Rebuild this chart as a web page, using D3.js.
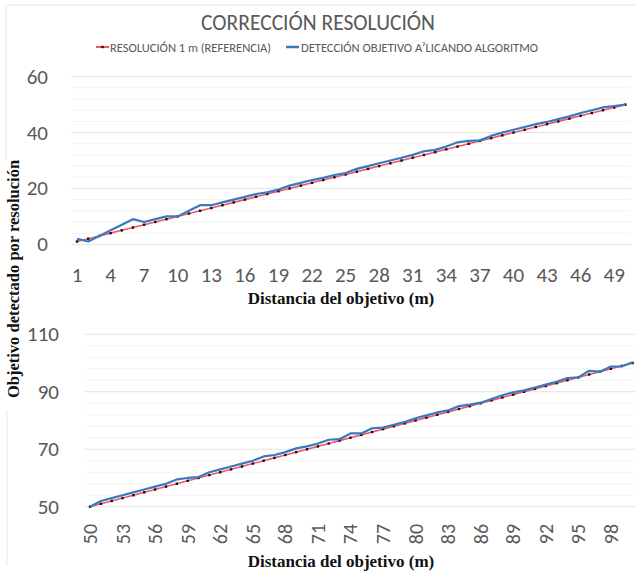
<!DOCTYPE html>
<html><head><meta charset="utf-8">
<script src="https://cdn.jsdelivr.net/npm/d3@7"></script>
<style>body{margin:0;background:#fff}svg{display:block}</style>
</head><body>
<svg id="c" width="635" height="574"></svg>
<script>
// ---------- data ----------
const catTop = [1,2,3,4,5,6,7,8,9,10,11,12,13,14,15,16,17,18,19,20,21,22,23,24,25,26,27,28,29,30,31,32,33,34,35,36,37,38,39,40,41,42,43,44,45,46,47,48,49,50];
const refTop = [1,2,3,4,5,6,7,8,9,10,11,12,13,14,15,16,17,18,19,20,21,22,23,24,25,26,27,28,29,30,31,32,33,34,35,36,37,38,39,40,41,42,43,44,45,46,47,48,49,50];
const detTop = [2,1,3,5,7,9,8,9,10,10,12,14,14,15,16,17,18,18.6,19.6,21,22,23,23.8,24.8,25.5,27,28,29,30,31,32,33.3,33.8,35,36.5,37,37.2,38.8,40,41,42,43,43.8,44.8,45.8,47,48,49,49.5,50];
const catBottom = [50,51,52,53,54,55,56,57,58,59,60,61,62,63,64,65,66,67,68,69,70,71,72,73,74,75,76,77,78,79,80,81,82,83,84,85,86,87,88,89,90,91,92,93,94,95,96,97,98,99,100];
const refBottom = [50,51,52,53,54,55,56,57,58,59,60,61,62,63,64,65,66,67,68,69,70,71,72,73,74,75,76,77,78,79,80,81,82,83,84,85,86,87,88,89,90,91,92,93,94,95,96,97,98,99,100];
const detBottom = [50,52,53,54,55,56,57,58,59.5,60,60.3,62,63,64,65,66,67.5,68,69,70.3,71,72,73.3,73.5,75.5,75.5,77.3,77.5,78.5,79.5,80.8,81.8,82.8,83.5,85,85.5,86.2,87.5,88.8,89.8,90.5,91.5,92.5,93.5,94.8,95,97.3,97,98.8,98.8,100.3];
const yTicksTop = [0,20,40,60];
const yTicksBottom = [50,70,90,110];
const xTicksTop = [1,4,7,10,13,16,19,22,25,28,31,34,37,40,43,46,49];
const xTicksBottom = [50,53,56,59,62,65,68,71,74,77,80,83,86,89,92,95,98];
const titleText = "CORRECCIÓN RESOLUCIÓN";
const seriesNames = ["RESOLUCIÓN 1 m (REFERENCIA)", "DETECCIÓN OBJETIVO A\u02C0LICANDO ALGORITMO"];
const xTitle = "Distancia del objetivo (m)";
const yTitle = "Objetivo detectado por resolución";

// ---------- drawing ----------
const svg = d3.select("#c");
const FONT = "Carlito, Lato, 'Open Sans', sans-serif";
const SERIF = "'Liberation Serif', 'Times New Roman', serif";
const GRAY = "#595959";
const RED = "#f4575c", BLUE = "#3a78c0";

svg.append("rect").attr("width",635).attr("height",574).attr("fill","#fff");

// faint chart frames
svg.append("path").attr("d","M6,160V5H635").attr("fill","none").attr("stroke","#e6e6e6");
svg.append("path").attr("d","M7,410V566").attr("fill","none").attr("stroke","#e6e6e6");

svg.append("text").attr("x",318).attr("y",30).attr("text-anchor","middle")
  .attr("font-family",FONT).attr("font-weight",300).attr("font-size",21.5).attr("fill",GRAY).text(titleText);

// legend
const lg = svg.append("g").attr("font-family",FONT).attr("font-size",12.5).attr("fill",GRAY);
lg.append("line").attr("x1",96).attr("x2",109).attr("y1",47).attr("y2",47).attr("stroke",RED).attr("stroke-width",2);
lg.append("rect").attr("x",101.3).attr("y",45.8).attr("width",2.4).attr("height",2.4).attr("fill","#111");
lg.append("text").attr("x",110).attr("y",51.5).text(seriesNames[0]);
lg.append("line").attr("x1",286).attr("x2",299).attr("y1",47).attr("y2",47).attr("stroke",BLUE).attr("stroke-width",2.5);
lg.append("text").attr("x",301).attr("y",51.5).text(seriesNames[1]);

function panel(cats, ref, det, yDom, yRange, xRange, yTicks, xTicks, rotate, minorStep, yLabRight, xLabY){
  const x = d3.scaleBand().domain(cats).range(xRange);
  const cx = d => x(d) + x.bandwidth()/2;
  const y = d3.scaleLinear().domain(yDom).range(yRange);
  const g = svg.append("g");
  const minor = d3.range(yDom[0], yDom[1]+0.001, minorStep).filter(v => !yTicks.includes(v));
  g.selectAll(".mn").data(minor).join("line")
    .attr("x1",xRange[0]).attr("x2",Math.min(xRange[1],635)).attr("y1",d=>y(d)).attr("y2",d=>y(d))
    .attr("stroke","#f3f3f3").attr("stroke-width",1);
  g.selectAll(".mj").data(yTicks).join("line")
    .attr("x1",xRange[0]).attr("x2",Math.min(xRange[1],635)).attr("y1",d=>y(d)).attr("y2",d=>y(d))
    .attr("stroke","#e3e3e3").attr("stroke-width",1);
  g.selectAll(".yl").data(yTicks).join("text")
    .attr("x",yLabRight).attr("y",d=>y(d)+7).attr("text-anchor","end")
    .attr("font-family",FONT).attr("font-size",21).attr("fill",GRAY).text(d=>d);
  if(!rotate){
    g.selectAll(".xl").data(xTicks).join("text")
      .attr("x",d=>cx(d)).attr("y",xLabY).attr("text-anchor","middle")
      .attr("font-family",FONT).attr("font-size",21).attr("fill",GRAY).text(d=>d);
  } else {
    g.selectAll(".xl").data(xTicks).join("text")
      .attr("transform",d=>`translate(${cx(d)+7},${xLabY}) rotate(-90)`)
      .attr("text-anchor","middle")
      .attr("font-family",FONT).attr("font-size",20).attr("fill",GRAY).text(d=>d);
  }
  const line = d3.line().x((d,i)=>cx(cats[i])).y(d=>y(d));
  g.append("path").datum(ref).attr("d",line).attr("fill","none").attr("stroke",RED).attr("stroke-width",1.6);
  g.selectAll(".mk").data(ref).join("rect")
    .attr("x",(d,i)=>cx(cats[i])-1.2).attr("y",d=>y(d)-1.2).attr("width",2.4).attr("height",2.4).attr("fill","#111");
  g.append("path").datum(det).attr("d",line).attr("fill","none").attr("stroke",BLUE).attr("stroke-width",2.2).attr("stroke-linejoin","round");
}

panel(catTop, refTop, detTop, [0,60], [244.3,76.7], [71.4,631], yTicksTop, xTicksTop, false, 4, 48, 282);
panel(catBottom, refBottom, detBottom, [50,110], [506.7,334.3], [84.6,638], yTicksBottom, xTicksBottom, true, 4, 59, 534);

// axis titles
svg.append("text").attr("x",341).attr("y",304).attr("text-anchor","middle")
  .attr("font-family",SERIF).attr("font-weight","bold")
  .attr("font-size",17).attr("fill","#111").text(xTitle);
svg.append("text").attr("x",341).attr("y",567).attr("text-anchor","middle")
  .attr("font-family",SERIF).attr("font-weight","bold")
  .attr("font-size",17).attr("fill","#111").text(xTitle);
svg.append("rect").attr("x",2).attr("y",162).attr("width",25).attr("height",246).attr("fill","#fff");
svg.append("text").attr("transform","translate(19,279) rotate(-90)").attr("text-anchor","middle")
  .attr("font-family",SERIF).attr("font-weight","bold")
  .attr("font-size",16.5).attr("fill","#111").text(yTitle);
</script>
</body></html>
